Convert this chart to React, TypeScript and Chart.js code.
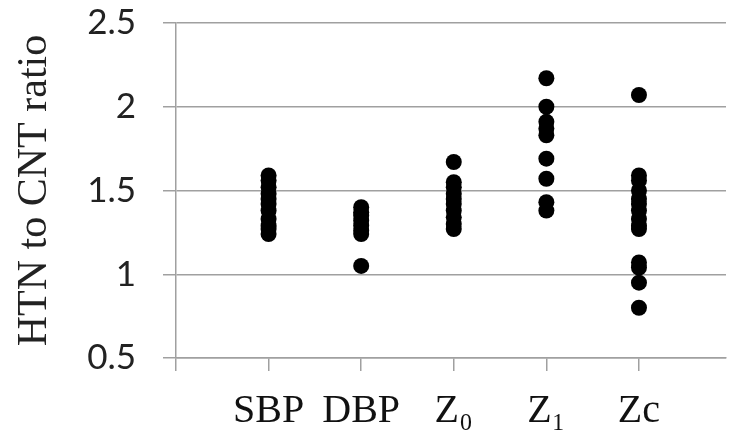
import React, { useEffect, useRef } from 'react';
import { Chart, registerables } from 'chart.js';

Chart.register(...registerables);

const categories = ['SBP', 'DBP', 'Z₀', 'Z₁', 'Zc'];
const sbpValues = [1.59, 1.56, 1.52, 1.48, 1.45, 1.42, 1.38, 1.33, 1.29, 1.27, 1.24];
const dbpValues = [1.40, 1.37, 1.35, 1.32, 1.29, 1.26, 1.24, 1.05];
const z0Values = [1.67, 1.55, 1.52, 1.48, 1.45, 1.42, 1.38, 1.34, 1.30, 1.27];
const z1Values = [2.17, 2.00, 1.91, 1.87, 1.83, 1.69, 1.57, 1.43, 1.38];
const zcValues = [2.07, 1.59, 1.56, 1.50, 1.45, 1.42, 1.38, 1.33, 1.29, 1.27, 1.07, 1.04, 0.95, 0.80];
const yTickValues = [0.5, 1, 1.5, 2, 2.5];
const yTickLabels = ['0.5', '1', '1.5', '2', '2.5'];
const yAxisTitle = 'HTN to CNT ratio';

export default function App() {
  const ref = useRef<HTMLCanvasElement>(null);

  useEffect(() => {
    const series = [sbpValues, dbpValues, z0Values, z1Values, zcValues];
    const points = series.flatMap((vals, i) => vals.map((v) => ({ x: i + 1, y: v })));
    const gridColor = '#a0a0a0';
    const chart = new Chart(ref.current as HTMLCanvasElement, {
      type: 'scatter',
      data: {
        datasets: [
          {
            data: points,
            pointRadius: 8,
            pointHoverRadius: 8,
            pointBackgroundColor: '#000',
            pointBorderWidth: 0,
            backgroundColor: '#000',
            borderColor: '#000',
          },
        ],
      },
      options: {
        responsive: false,
        animation: false,
        layout: { padding: { top: 23, right: 0, left: 0, bottom: 0 } },
        plugins: { legend: { display: false }, tooltip: { enabled: false } },
        scales: {
          x: {
            type: 'linear',
            min: 0,
            max: 5.94,
            ticks: {
              stepSize: 1,
              includeBounds: false,
              autoSkip: false,
              maxRotation: 0,
              callback: (v: any) => categories[Number(v) - 1] ?? '',
              font: { family: 'Liberation Serif', size: 40 },
              color: '#111',
              padding: 16,
            },
            grid: {
              display: true,
              drawOnChartArea: false,
              drawTicks: true,
              tickLength: 13,
              color: gridColor,
              lineWidth: 1.5,
            },
            border: { display: true, color: gridColor, width: 1.5 },
            afterFit: (s: any) => {
              s.height = 78;
              s.paddingLeft = 0;
              s.paddingRight = 0;
            },
          },
          y: {
            min: 0.5,
            max: 2.5,
            afterBuildTicks: (s: any) => {
              s.ticks = yTickValues.map((v) => ({ value: v }));
            },
            ticks: {
              callback: (v: any) => {
                const i = yTickValues.indexOf(Number(v));
                return i >= 0 ? yTickLabels[i] : '';
              },
              font: { family: 'Lato', size: 35 },
              color: '#222',
              padding: 27,
            },
            grid: {
              color: gridColor,
              lineWidth: 1.5,
              drawTicks: true,
              tickLength: 13,
            },
            border: { display: true, color: gridColor, width: 1.5 },
            title: {
              display: true,
              text: yAxisTitle,
              font: { family: 'Liberation Serif', size: 42 },
              color: '#222',
              padding: { top: 10, bottom: 0 },
            },
            afterFit: (s: any) => {
              s.width = 176;
              s.paddingTop = 0;
              s.paddingBottom = 0;
            },
          },
        },
      },
    });
    return () => chart.destroy();
  }, []);

  return (
    <div style={{ position: 'fixed', left: 0, top: 0, width: 734, height: 436, background: '#fff' }}>
      <canvas ref={ref} width={734} height={436} style={{ display: 'block' }} />
    </div>
  );
}
